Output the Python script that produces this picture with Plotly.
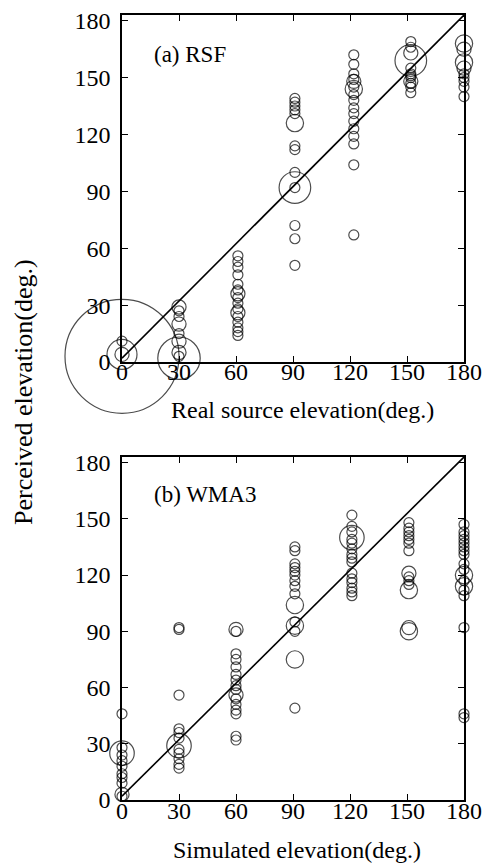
import numpy as np
import plotly.graph_objects as go

# ---------------- data ----------------
# (a) RSF : real source elevation vs perceived elevation
rsf_x = [0, 0, 0, 0,
         30, 30, 30, 30, 30, 30, 30, 30, 30,
         61, 61, 61, 61, 61, 61, 61, 61, 61, 61, 61, 61, 61, 61, 61, 61,
         91, 91, 91, 91, 91, 91, 91, 91, 91, 91, 91, 91, 91, 91,
         122, 122, 122, 122, 122, 122, 122, 122, 122, 122, 122, 122, 122, 122, 122, 122, 122,
         152, 152, 152, 152, 152, 152, 152, 152, 152, 152, 152, 152,
         180, 180, 180, 180, 180, 180, 180, 180, 180]
rsf_y = [11, 4, 4, 3,
         29, 27, 24, 20, 15, 11, 5, 3, 2,
         56, 53, 50, 46, 41, 38, 36, 34, 31, 28, 26, 24, 21, 18, 16, 14,
         139, 137, 135, 133, 131, 126, 114, 112, 100, 92, 92, 72, 65, 51,
         162, 157, 152, 149, 148, 145, 144, 141, 138, 134, 131, 127, 123, 119, 115, 104, 67,
         169, 166, 163, 159, 155, 152, 151, 150, 148, 147, 145, 142,
         168, 165, 158, 155, 152, 150, 148, 145, 140]
rsf_n = [1, 2, 9, 130,
         2, 1, 1, 2, 1, 2, 2, 1, 18,
         1, 1, 1, 1, 1, 1, 2, 1, 1, 1, 2, 1, 1, 1, 1, 1,
         1, 1, 1, 1, 1, 3, 1, 1, 1, 1, 10, 1, 1, 1,
         1, 1, 1, 1, 2, 1, 3, 1, 1, 1, 1, 1, 1, 1, 1, 1, 1,
         1, 1, 2, 10, 1, 1, 1, 1, 2, 1, 1, 1,
         3, 2, 3, 2, 1, 1, 1, 1, 1]

# (b) WMA3 : simulated elevation vs perceived elevation
wma_x = [0, 0, 0, 0, 0, 0, 0, 0, 0, 0, 0,
         30, 30, 30, 30, 30, 30, 30, 30, 30, 30, 30, 30,
         60, 60, 60, 60, 60, 60, 60, 60, 60, 60, 60, 60, 60, 60, 60, 60,
         91, 91, 91, 91, 91, 91, 91, 91, 91, 91, 91, 91, 91, 91, 91,
         121, 121, 121, 121, 121, 121, 121, 121, 121, 121, 121, 121, 121, 121, 121, 121,
         151, 151, 151, 151, 151, 151, 151, 151, 151, 151, 151, 151, 151, 151,
         180, 180, 180, 180, 180, 180, 180, 180, 180, 180, 180, 180, 180, 180, 180, 180, 180, 180]
wma_y = [46, 28, 25, 24, 21, 18, 14, 12, 9, 3, 2,
         92, 91, 56, 38, 36, 33, 29, 27, 25, 22, 19, 17,
         91, 90, 78, 75, 71, 67, 64, 61, 59, 56, 54, 51, 48, 46, 34, 32,
         135, 133, 126, 124, 122, 120, 117, 114, 110, 104, 95, 93, 90, 75, 49,
         152, 146, 143, 140, 139, 137, 134, 131, 129, 127, 121, 118, 116, 113, 111, 109,
         148, 145, 143, 141, 139, 137, 133, 121, 119, 117, 115, 112, 92, 90,
         147, 143, 141, 139, 137, 135, 133, 131, 126, 123, 120, 117, 114, 112, 109, 92, 46, 44]
wma_n = [1, 1, 6, 1, 1, 1, 1, 1, 1, 2, 1,
         1, 1, 1, 1, 1, 1, 6, 1, 1, 1, 1, 1,
         2, 1, 1, 1, 1, 1, 1, 1, 1, 2, 1, 1, 1, 1, 1, 1,
         1, 1, 1, 1, 1, 1, 1, 1, 1, 3, 1, 3, 1, 3, 1,
         1, 1, 1, 6, 1, 1, 1, 1, 1, 1, 1, 1, 1, 1, 1, 1,
         1, 1, 1, 1, 1, 1, 1, 2, 1, 1, 1, 3, 2, 3,
         1, 1, 1, 1, 1, 1, 1, 1, 1, 1, 3, 1, 3, 1, 1, 1, 1, 1]

ref_x = [0, 180]
ref_y = [2, 183]

tick_vals = [0, 30, 60, 90, 120, 150, 180]
tick_text = ["0", "30", "60", "90", "120", "150", "180"]

# ---------------- figure ----------------
# the page body has an 8px margin, so the figure is 8px smaller and all
# screen positions are measured relative to (8, 8)
OFF = 8
W, H = 490 - OFF, 866 - OFF
FONT = "Liberation Serif"


def px(sx):
    return (sx - OFF) / W


def py(sy):
    return 1 - (sy - OFF) / H


def diam(n):
    return 10 * np.sqrt(np.asarray(n, dtype=float))


fig = go.Figure()

for xs, ys, ns, xa, ya in [(rsf_x, rsf_y, rsf_n, "x", "y"),
                           (wma_x, wma_y, wma_n, "x2", "y2")]:
    fig.add_trace(go.Scatter(
        x=ref_x, y=ref_y, mode="lines", xaxis=xa, yaxis=ya,
        line=dict(color="black", width=1.6), showlegend=False, hoverinfo="skip"))
    fig.add_trace(go.Scatter(
        x=xs, y=ys, mode="markers", xaxis=xa, yaxis=ya, cliponaxis=False,
        marker=dict(symbol="circle-open", size=diam(ns), color="black",
                    line=dict(width=1.2, color="black")),
        showlegend=False))

xdom = [px(122), px(464)]
ydom_a = [py(362), py(15)]
ydom_b = [py(800), py(457)]

axis_common = dict(
    showline=True, linecolor="black", linewidth=1.5, mirror="ticks",
    ticks="inside", ticklen=6, tickwidth=1.3, tickcolor="black",
    showgrid=False, zeroline=False, automargin=False,
    tickmode="array", tickvals=tick_vals, ticktext=tick_text,
    tickfont=dict(family=FONT, size=24, color="black"),
)

fig.update_layout(
    width=W, height=H,
    margin=dict(l=0, r=0, t=0, b=0, autoexpand=False),
    paper_bgcolor="white", plot_bgcolor="rgba(0,0,0,0)",
    font=dict(family=FONT, color="black"),
    xaxis=dict(domain=xdom, anchor="y", range=[0, 180], ticklabelstandoff=-13, **axis_common),
    yaxis=dict(domain=ydom_a, anchor="x", range=[0, 183], ticklabelstandoff=5, **axis_common),
    xaxis2=dict(domain=xdom, anchor="y2", range=[0, 180], ticklabelstandoff=-12, **axis_common),
    yaxis2=dict(domain=ydom_b, anchor="x2", range=[0, 183], ticklabelstandoff=5, **axis_common),
)

fig.add_annotation(text="(a) RSF", xref="x", yref="y", x=16, y=162,
                   xanchor="left", yanchor="middle", showarrow=False,
                   font=dict(family=FONT, size=23, color="black"))
fig.add_annotation(text="(b) WMA3", xref="x2", yref="y2", x=16, y=163,
                   xanchor="left", yanchor="middle", showarrow=False,
                   font=dict(family=FONT, size=23, color="black"))
fig.add_annotation(text="Real source elevation(deg.)", xref="paper", yref="paper",
                   x=px(302), y=py(410), xanchor="center", yanchor="middle",
                   showarrow=False, font=dict(family=FONT, size=24, color="black"))
fig.add_annotation(text="Simulated elevation(deg.)", xref="paper", yref="paper",
                   x=px(297), y=py(850), xanchor="center", yanchor="middle",
                   showarrow=False, font=dict(family=FONT, size=24, color="black"))
fig.add_annotation(text="Perceived elevation(deg.)", xref="paper", yref="paper",
                   x=px(24), y=py(392), xanchor="center", yanchor="middle",
                   textangle=-90, showarrow=False,
                   font=dict(family=FONT, size=26, color="black"))

fig.write_html("out.html")
